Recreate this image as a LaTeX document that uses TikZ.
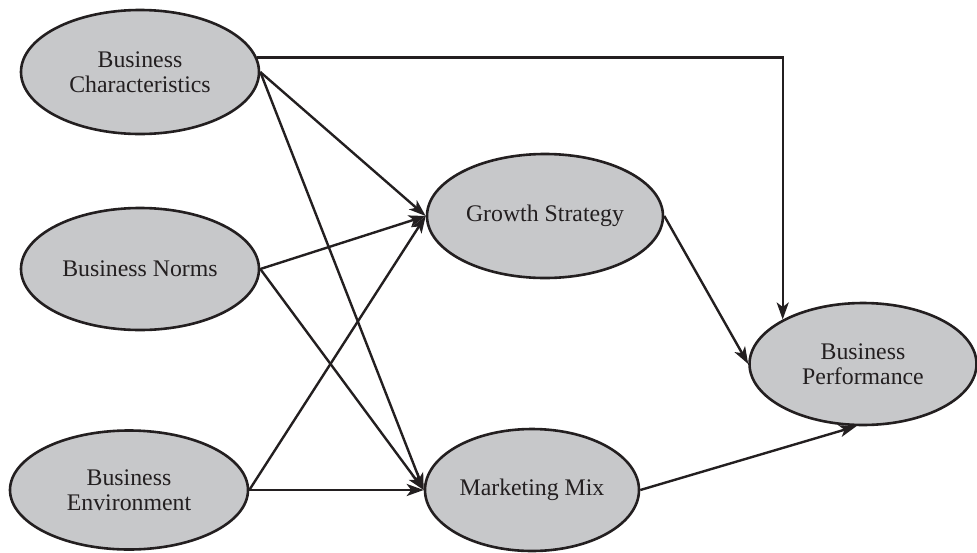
\documentclass[tikz,border=0pt]{standalone}
\usepackage{fontspec}
\setmainfont{Liberation Serif}
\usetikzlibrary{shapes.geometric,arrows.meta}

\definecolor{bubble}{RGB}{199,200,202}
\definecolor{ink}{RGB}{35,31,32}

\tikzset{
  construct/.style={ellipse, draw=ink, line width=2.6pt, fill=bubble,
    inner sep=0pt, text=ink, align=center,
    font=\fontsize{23.8}{25.5}\selectfont},
  link/.style={draw=ink, line width=2.4pt,
    -{Stealth[length=17pt,width=12pt,inset=4.5pt]}}
}

\begin{document}
\begin{tikzpicture}[x=1pt,y=-1pt]
\useasboundingbox (0,0) rectangle (977,552);

% latent constructs
\node[construct, minimum width=238pt, minimum height=124pt] (bc) at (140,72)  {Business\\Characteristics};
\node[construct, minimum width=238pt, minimum height=122pt] (bn) at (140,269) {Business Norms};
\node[construct, minimum width=238pt, minimum height=119pt] (be) at (129,490) {Business\\Environment};
\node[construct, minimum width=236pt, minimum height=124pt] (gs) at (545,216) {Growth Strategy};
\node[construct, minimum width=214pt, minimum height=122pt] (mm) at (532,490) {Marketing Mix};
\node[construct, minimum width=227pt, minimum height=122pt] (bp) at (863,364) {Business\\Performance};

% paths between constructs
\draw[link] (bc.7) -| (bp.151);
\draw[link] (bc.east) -- (gs.west);
\draw[link] (bc.east) -- (mm.west);
\draw[link] (bn.east) -- (gs.west);
\draw[link] (bn.east) -- (mm.west);
\draw[link] (be.east) -- (gs.west);
\draw[link] (be.east) -- (mm.west);
\draw[link] (gs.east) -- (bp.west);
\draw[link] (mm.east) -- (bp.264);
\end{tikzpicture}
\end{document}
